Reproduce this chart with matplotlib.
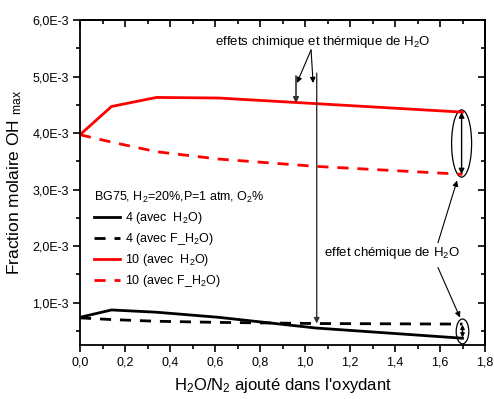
import matplotlib
matplotlib.use("Agg")
import matplotlib.pyplot as plt
from matplotlib.patches import Ellipse
from matplotlib.ticker import MultipleLocator, FuncFormatter

plt.rcParams['font.family'] = ['Liberation Sans', 'DejaVu Sans']
plt.rcParams['mathtext.default'] = 'regular'

x = [0.0, 0.14, 0.34, 0.615, 1.05, 1.70]
o4_h2o = [0.74, 0.87, 0.83, 0.74, 0.55, 0.37]
o4_fh2o = [0.73, 0.70, 0.67, 0.65, 0.63, 0.62]
o10_h2o = [3.97, 4.47, 4.63, 4.62, 4.52, 4.37]
o10_fh2o = [3.97, 3.84, 3.67, 3.54, 3.41, 3.27]
labels = ['4 (avec  H$_2$O)', '4 (avec F_H$_2$O)', '10 (avec  H$_2$O)', '10 (avec F_H$_2$O)']
scale = 1e-3

fig = plt.figure(figsize=(4.94, 3.99), dpi=100)
ax = fig.add_axes([80/494, 54/399, 405/494, 325/399])

dash = (0, (4.0, 3.2))
lw = 2.0
ax.plot(x, [v*scale for v in o4_h2o], color='black', lw=lw, label=labels[0])
ax.plot(x, [v*scale for v in o4_fh2o], color='black', lw=lw, ls=dash, label=labels[1])
ax.plot(x, [v*scale for v in o10_h2o], color='red', lw=lw, label=labels[2])
ax.plot(x, [v*scale for v in o10_fh2o], color='red', lw=lw, ls=dash, label=labels[3])

ax.set_xlim(0, 1.8)
ax.set_ylim(0.25e-3, 6.0e-3)
ax.xaxis.set_major_locator(MultipleLocator(0.2))
ax.xaxis.set_minor_locator(MultipleLocator(0.1))
ax.yaxis.set_major_locator(MultipleLocator(1e-3))
ax.yaxis.set_minor_locator(MultipleLocator(0.5e-3))
ax.xaxis.set_major_formatter(FuncFormatter(lambda v, p: f"{v:.1f}".replace('.', ',')))
ax.yaxis.set_major_formatter(FuncFormatter(lambda v, p: f"{v*1e3:.1f}".replace('.', ',') + "E-3"))
ax.tick_params(which='major', direction='out', length=5, width=1.2, labelsize=9, pad=3)
ax.tick_params(which='minor', direction='out', length=3, width=1.2)
for s in ax.spines.values():
    s.set_linewidth(1.3)

# mirrored inward ticks on top and right
secx = ax.secondary_xaxis('top')
secx.xaxis.set_major_locator(MultipleLocator(0.2))
secx.xaxis.set_minor_locator(MultipleLocator(0.1))
secx.tick_params(which='major', direction='in', length=5, width=1.2, labeltop=False)
secx.tick_params(which='minor', direction='in', length=3, width=1.2)
secx.spines['top'].set_linewidth(1.3)
secy = ax.secondary_yaxis('right')
secy.yaxis.set_major_locator(MultipleLocator(1e-3))
secy.yaxis.set_minor_locator(MultipleLocator(0.5e-3))
secy.tick_params(which='major', direction='in', length=5, width=1.2, labelright=False)
secy.tick_params(which='minor', direction='in', length=3, width=1.2)
secy.spines['right'].set_linewidth(1.3)

ax.set_xlabel("H$_2$O/N$_2$ ajouté dans l'oxydant", fontsize=12, labelpad=6)
ax.set_ylabel("Fraction molaire OH $_{max}$", fontsize=12.5, labelpad=6)

leg = ax.legend(loc='upper left', bbox_to_anchor=(0.02, 0.496), frameon=False,
                title="BG75, H$_2$=20%,P=1 atm, O$_2$%", title_fontsize=9, fontsize=9,
                alignment='left', borderpad=0, handlelength=2.05, handletextpad=0.4,
                labelspacing=0.4)

# annotations
ax.text(1.078, 5.61e-3, "effets chimique et thérmique de H$_2$O", fontsize=9.5,
        ha='center', va='center')
ax.annotate("", xy=(0.964, 4.885e-3), xytext=(1.027, 5.47e-3),
            arrowprops=dict(arrowstyle='-|>', color='black', lw=0.8, mutation_scale=8, shrinkA=0, shrinkB=0))
ax.annotate("", xy=(1.036, 4.885e-3), xytext=(1.027, 5.47e-3),
            arrowprops=dict(arrowstyle='-|>', color='black', lw=0.8, mutation_scale=8, shrinkA=0, shrinkB=0))
ax.annotate("", xy=(0.96, 4.53e-3), xytext=(0.96, 5.01e-3),
            arrowprops=dict(arrowstyle='-|>', color='#333333', lw=1.2, mutation_scale=8, shrinkA=0, shrinkB=0))
ax.annotate("", xy=(1.052, 0.63e-3), xytext=(1.052, 5.06e-3),
            arrowprops=dict(arrowstyle='-|>', color='#333333', lw=1.0, mutation_scale=8, shrinkA=0, shrinkB=0))

ax.add_patch(Ellipse((1.696, 3.815e-3), 0.089, 1.19e-3, fill=False, lw=0.9, ec='black'))
ax.annotate("", xy=(1.696, 3.27e-3), xytext=(1.696, 4.37e-3),
            arrowprops=dict(arrowstyle='<|-|>', color='black', lw=1.0, mutation_scale=8, shrinkA=0, shrinkB=0))
ax.add_patch(Ellipse((1.70, 0.49e-3), 0.056, 0.44e-3, fill=False, lw=0.9, ec='black'))
ax.annotate("", xy=(1.70, 0.38e-3), xytext=(1.70, 0.61e-3),
            arrowprops=dict(arrowstyle='<|-|>', color='black', lw=1.0, mutation_scale=6, shrinkA=0, shrinkB=0))

ax.text(1.387, 1.87e-3, "effet chémique de H$_2$O", fontsize=9.5, ha='center', va='center')
ax.annotate("", xy=(1.676, 3.16e-3), xytext=(1.591, 2.06e-3),
            arrowprops=dict(arrowstyle='-|>', color='black', lw=0.8, mutation_scale=8, shrinkA=0, shrinkB=0))
ax.annotate("", xy=(1.689, 0.735e-3), xytext=(1.591, 1.62e-3),
            arrowprops=dict(arrowstyle='-|>', color='black', lw=0.8, mutation_scale=8, shrinkA=0, shrinkB=0))

fig.savefig("out.png", dpi=100)
